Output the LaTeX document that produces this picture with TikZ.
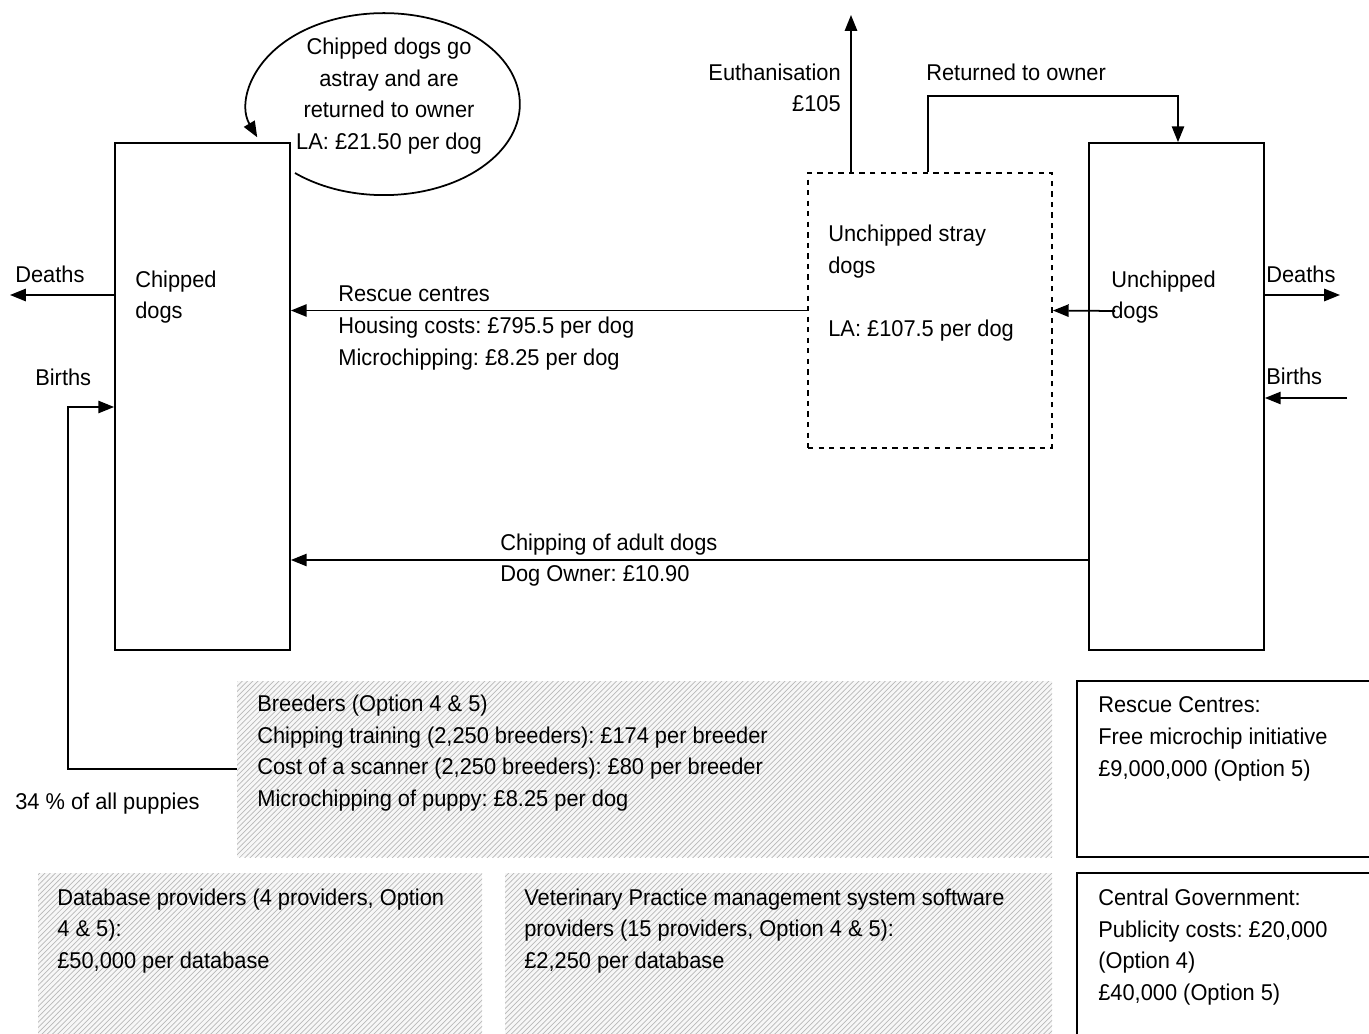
\documentclass[tikz,border=0pt]{standalone}
\usepackage{fontspec}
\setmainfont{Liberation Sans}[FakeStretch=0.955]
\usetikzlibrary{arrows.meta,fit,patterns}
\frenchspacing

\tikzset{
  stock/.style={draw, line width=1pt, inner sep=0pt},
  straybox/.style={draw, dashed, line width=1pt, inner sep=0pt},
  hatchbox/.style={inner sep=0pt, preaction={fill=gray!6},
    pattern=north east lines, pattern color=gray!55},
  costbox/.style={draw, line width=1pt, inner sep=0pt},
  flow/.style={line width=1pt, -{Triangle[length=9pt,width=7pt]}},
  lbl/.style={inner sep=0pt, align=left, font=\fontsize{13}{18}\selectfont}
}

\begin{document}
\begin{tikzpicture}[x=0.02cm, y=-0.02cm]
  \useasboundingbox (0,0) rectangle (1369,1034);
  \clip (0,0) rectangle (1369,1034);

  \node[stock, fit={(115,143) (290,650)}] (chipped) {};
  \node[stock, fit={(1089,143) (1264,650)}] (unchipped) {};
  \node[straybox, fit={(808,173) (1052,448)}] (stray) {};

  \node[hatchbox, fit={(237,681) (1052,857)}] (breeders) {};
  \node[hatchbox, fit={(38,873) (482,1040)}] (database) {};
  \node[hatchbox, fit={(505,873) (1052,1040)}] (vetsoft) {};
  \node[costbox, fit={(1077,681) (1380,857)}] (rescuecost) {};
  \node[costbox, fit={(1077,873) (1380,1050)}] (govcost) {};

  \node[lbl, anchor=west] (chippedtxt) at (135,297) {Chipped\\dogs};
  \node[lbl, anchor=west] (unchippedtxt) at (1111,297) {Unchipped\\dogs};
  \node[lbl, anchor=west] (straytxt) at (828,283)
    {Unchipped stray\\dogs\\[18pt]LA: £107.5 per dog};
  \node[lbl, align=center] (looptxt) at (389,96)
    {Chipped dogs go\\astray and are\\returned to owner\\LA: £21.50 per dog};

  \coordinate (loopstart) at (295,173);
  \draw[flow] (loopstart) arc[start angle=130.8, end angle=-201.4,
    x radius=136, y radius=91];

  \draw[flow] (stray.west) -- (stray.west -| chipped.east);
  \node[lbl, anchor=west] (rescuetxt) at (338,328)
    {Rescue centres\\Housing costs: £795.5 per dog\\Microchipping: £8.25 per dog};

  \coordinate (uinner) at (1115,311);
  \draw[flow] (uinner) -- (stray.east);

  \coordinate (adultrow) at (0,560);
  \draw[flow] (unchipped.west |- adultrow) -- (chipped.east |- adultrow);
  \node[lbl, anchor=west] (adulttxt) at (500,560)
    {Chipping of adult dogs\\Dog Owner: £10.90};

  \coordinate (euthtop) at (851,15);
  \draw[flow] (stray.north -| euthtop) -- (euthtop);
  \node[lbl, anchor=east, align=right] (euthtxt) at (841,88)
    {Euthanisation\\£105};

  \coordinate (retleg) at (928,0);
  \coordinate (retcorner) at (1178,96);
  \draw[flow] (stray.north -| retleg) |- (retcorner) -- (retcorner |- unchipped.north);
  \node[lbl, anchor=west] (rettxt) at (926,72) {Returned to owner};

  \coordinate (ldeath) at (10,295);
  \draw[flow] (chipped.west |- ldeath) -- (ldeath);
  \node[lbl, anchor=west] (ldeathtxt) at (15,274) {Deaths};

  \coordinate (lbirth) at (68,407);
  \draw[flow] (breeders.west) -| (lbirth) -- (lbirth -| chipped.west);
  \node[lbl, anchor=west] (lbirthtxt) at (35,377) {Births};
  \node[lbl, anchor=west] (puppytxt) at (15,804) {34 \% of all puppies};

  \coordinate (rdeath) at (1340,295);
  \draw[flow] (unchipped.east |- rdeath) -- (rdeath);
  \node[lbl, anchor=west] (rdeathtxt) at (1266,274) {Deaths};

  \coordinate (rbirth) at (1347,398);
  \draw[flow] (rbirth) -- (rbirth -| unchipped.east);
  \node[lbl, anchor=west] (rbirthtxt) at (1266,376) {Births};

  \node[lbl, anchor=west] (breederstxt) at (257,753)
    {Breeders (Option 4 \& 5)\\Chipping training (2,250 breeders): £174 per breeder\\Cost of a scanner (2,250 breeders): £80 per breeder\\Microchipping of puppy: £8.25 per dog};
  \node[lbl, anchor=west] (databasetxt) at (57,931)
    {Database providers (4 providers, Option\\4 \& 5):\\£50,000 per database};
  \node[lbl, anchor=west] (vetsofttxt) at (524,931)
    {Veterinary Practice management system software\\providers (15 providers, Option 4 \& 5):\\£2,250 per database};
  \node[lbl, anchor=west] (rescuecosttxt) at (1098,739)
    {Rescue Centres:\\Free microchip initiative\\£9,000,000 (Option 5)};
  \node[lbl, anchor=west] (govcosttxt) at (1098,947)
    {Central Government:\\Publicity costs: £20,000\\(Option 4)\\£40,000 (Option 5)};
\end{tikzpicture}
\end{document}
